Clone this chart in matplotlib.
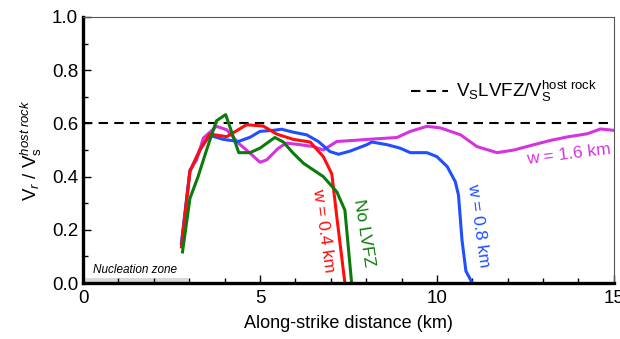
import matplotlib
matplotlib.use("Agg")
import matplotlib.pyplot as plt
from matplotlib.ticker import MultipleLocator

plt.rcParams['font.family'] = ['Liberation Sans', 'DejaVu Sans']
plt.rcParams['mathtext.fontset'] = 'custom'
plt.rcParams['mathtext.rm'] = 'Liberation Sans'
plt.rcParams['mathtext.it'] = 'Liberation Sans:italic'

# curves (km, Vr/Vs)
x_nolvfz = [2.81, 3.02, 3.25, 3.49, 3.77, 4.03, 4.4, 4.72, 5.0, 5.42, 5.66, 5.94, 6.23, 6.79, 7.17, 7.4, 7.59]
y_nolvfz = [0.117, 0.318, 0.40, 0.50, 0.61, 0.633, 0.49, 0.49, 0.507, 0.547, 0.53, 0.488, 0.45, 0.40, 0.343, 0.274, 0.0]

x_w04 = [2.78, 3.02, 3.3, 3.58, 4.06, 4.62, 5.09, 5.47, 5.94, 6.42, 6.79, 7.03, 7.17, 7.4]
y_w04 = [0.136, 0.42, 0.50, 0.56, 0.55, 0.595, 0.59, 0.56, 0.54, 0.53, 0.475, 0.41, 0.25, 0.0]

x_w08 = [2.78, 3.02, 3.3, 3.58, 3.96, 4.39, 4.72, 5.0, 5.38, 5.61, 5.94, 6.32, 6.65, 6.98, 7.22, 7.55, 8.02, 8.16,
         8.59, 8.96, 9.25, 9.72, 10.0, 10.29, 10.52, 10.61, 10.71, 10.82, 11.0]
y_w08 = [0.15, 0.42, 0.50, 0.555, 0.54, 0.532, 0.548, 0.57, 0.574, 0.578, 0.567, 0.557, 0.532, 0.494, 0.484, 0.496, 0.52, 0.53,
         0.52, 0.507, 0.49, 0.49, 0.475, 0.438, 0.381, 0.331, 0.161, 0.045, 0.0]

x_w16 = [2.78, 3.02, 3.21, 3.4, 3.77, 4.06, 4.39, 4.72, 5.0, 5.19, 5.52, 5.75, 6.13, 6.51, 6.79, 7.17, 7.64, 8.16,
         8.87, 9.25, 9.72, 10.1, 10.67, 11.13, 11.7, 12.18, 12.74, 13.21, 13.68, 14.25, 14.62, 15.0]
y_w16 = [0.148, 0.425, 0.463, 0.545, 0.589, 0.576, 0.526, 0.488, 0.454, 0.463, 0.507, 0.526, 0.52, 0.513, 0.50, 0.532, 0.536, 0.541,
         0.547, 0.57, 0.589, 0.583, 0.557, 0.513, 0.49, 0.50, 0.52, 0.536, 0.549, 0.561, 0.579, 0.574]

vs_ratio = 0.6
nucl_end = 2.97

fig = plt.figure(figsize=(6.2, 3.39), dpi=100)
ax = fig.add_axes([0.134, 0.165, 0.856, 0.785])

ax.axvspan(0, nucl_end, ymin=0, ymax=0.02, color='#d9d9d9', lw=0)
ax.text(0.27, 0.05, 'Nucleation zone', style='italic', fontsize=8.5, va='center')

ax.axhline(vs_ratio, color='black', ls=(0, (4.5, 3)), lw=1.5,
           label=r'$\mathregular{V_S LVFZ/V_S^{host\ rock}}$')

lw = 2.2
ax.plot(x_w16, y_w16, color='#d633e0', lw=lw)
ax.plot(x_w08, y_w08, color='#1f4fff', lw=lw)
ax.plot(x_w04, y_w04, color='#ff0d0d', lw=lw)
ax.plot(x_nolvfz, y_nolvfz, color='#0d7a0d', lw=lw)

ax.text(13.72, 0.482, 'w = 1.6 km', color='#d633e0', fontsize=12.5, rotation=7, ha='center', va='center')
ax.text(11.17, 0.218, 'w = 0.8 km', color='#1f4fff', fontsize=12.5, rotation=-82, ha='center', va='center')
ax.text(7.92, 0.19, 'No LVFZ', color='#0d7a0d', fontsize=12.5, rotation=-81, ha='center', va='center')
ax.text(6.78, 0.2, 'w = 0.4 km', color='#ff0d0d', fontsize=12.5, rotation=-82, ha='center', va='center')

leg = ax.legend(loc='upper right', bbox_to_anchor=(1.0, 0.83), frameon=False, fontsize=13.5,
                handlelength=2.0, handletextpad=0.4)

ax.set_xlim(0, 15)
ax.set_ylim(0, 1.0)
ax.xaxis.set_major_locator(MultipleLocator(5))
ax.xaxis.set_minor_locator(MultipleLocator(1))
ax.yaxis.set_major_locator(MultipleLocator(0.2))
ax.yaxis.set_minor_locator(MultipleLocator(0.1))
ax.yaxis.set_major_formatter(matplotlib.ticker.FormatStrFormatter('%.1f'))
ax.tick_params(which='both', direction='in', top=False, right=False, labelsize=13.5, width=1)
ax.tick_params(which='major', length=6)
ax.tick_params(which='minor', length=3.5)
ax.tick_params(axis='x', pad=5)

for s in ['left', 'bottom']:
    ax.spines[s].set_linewidth(2.4)
for s in ['top', 'right']:
    ax.spines[s].set_linewidth(0.8)
    ax.spines[s].set_color('#555555')

ax.set_xlabel('Along-strike distance (km)', fontsize=13, labelpad=6)
ax.set_ylabel(r'$\mathregular{V}_{\mathit{r}}\ /\ \mathregular{V}_{\mathregular{s}}^{\mathit{host\ rock}}$', fontsize=13.5, labelpad=6)

fig.savefig('out.png', dpi=100)
